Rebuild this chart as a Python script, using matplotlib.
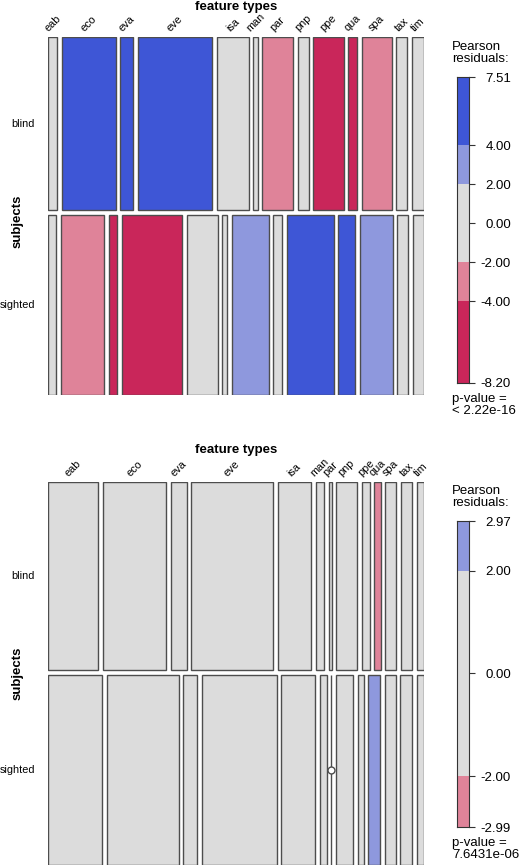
import matplotlib
matplotlib.use("Agg")
import matplotlib.pyplot as plt
from matplotlib.patches import Rectangle
import matplotlib.transforms as mtransforms

plt.rcParams['font.family'] = ['Liberation Sans', 'DejaVu Sans']

# ---------------- data ----------------
features = ["eab", "eco", "eva", "eve", "isa", "man", "par", "pnp", "ppe", "qua", "spa", "tax", "tim"]
subjects = ["blind", "sighted"]

# panel 1 (top): observed counts per subject x feature type
p1_blind = [26, 157, 38, 215, 93, 12, 90, 32, 87, 26, 87, 32, 35]
p1_sighted = [24, 132, 24, 183, 93, 15, 111, 27, 141, 51, 99, 33, 33]
# panel 1 Pearson residuals
p1_res_blind = [0.6, 4.3, 4.6, 7.51, 0.4, -0.5, -3.1, 0.9, -5.6, -4.4, -2.6, 0.2, 0.9]
p1_res_sighted = [-0.6, -3.9, -4.5, -8.20, -0.4, 0.5, 3.0, -0.9, 5.4, 4.3, 2.5, -0.2, -0.9]
p1_pvalue = "< 2.22e-16"

# panel 2 (bottom)
p2_blind = [148, 189, 47, 242, 100, 24, 9, 62, 24, 18, 32, 35, 21]
p2_sighted = [162, 216, 42, 225, 102, 21, 0, 51, 18, 36, 33, 36, 21]
p2_res_blind = [-0.3, -0.6, 0.4, 0.8, 0.0, 0.3, 1.7, 0.6, 0.7, -2.99, 0.0, -0.1, 0.0]
p2_res_sighted = [0.3, 0.6, -0.4, -0.8, 0.0, -0.3, -1.7, -0.6, -0.7, 2.97, 0.0, 0.1, 0.0]
p2_pvalue = "7.6431e-06"

# shading bins
breaks = [-4.0, -2.0, 2.0, 4.0]
bin_colors = ["#c9265a", "#df8399", "#dcdcdc", "#8e98dd", "#3e56d6"]
edge_col = "#4d4d4d"

W, H = 520, 868
fig = plt.figure(figsize=(W / 100, H / 100), dpi=100)


def frac_rect(l, t, r, b):
    return [l / W, 1 - b / H, (r - l) / W, (b - t) / H]


def color_for(v):
    idx = sum(v > b for b in breaks)
    return bin_colors[idx]


LBL = 7.85
VAR = 9.5
LEG = 9.5


def mosaic(rect, rows, resids, gap_px=4.6, vgap_px=5.0):
    ax = fig.add_axes(frac_rect(*rect))
    ax.set_xlim(0, 1)
    ax.set_ylim(1, 0)
    ax.axis("off")
    wpx = rect[2] - rect[0]
    hpx = rect[3] - rect[1]
    gx = gap_px / wpx
    gy = vgap_px / hpx
    ncols = len(rows[0])
    nrows = len(rows)
    tots = [sum(r) for r in rows]
    grand = sum(tots)
    avail_h = 1 - gy * (nrows - 1)
    y = 0.0
    first_centers = []
    row_centers = []
    for i, row in enumerate(rows):
        h = avail_h * tots[i] / grand
        avail_w = 1 - gx * (ncols - 1)
        x = 0.0
        for j, c in enumerate(row):
            w = avail_w * c / tots[i]
            if c == 0:
                ax.plot([x, x], [y, y + h], color=edge_col, lw=1.0, solid_capstyle="butt")
                ax.plot([x], [y + h / 2], marker="o", ms=5, mfc="white", mec=edge_col, mew=1.0)
            else:
                ax.add_patch(Rectangle((x, y), w, h, facecolor=color_for(resids[i][j]),
                                       edgecolor=edge_col, lw=1.0))
            if i == 0:
                first_centers.append(x + w / 2)
            x += w + gx
        row_centers.append(y + h / 2)
        y += h + gy
    # column labels
    off = mtransforms.offset_copy(ax.transData, fig=fig, x=0, y=3.5, units="dots")
    for xc, name in zip(first_centers, features):
        ax.text(xc, 0, name, rotation=45, ha="center", va="bottom", fontsize=LBL,
                transform=off, clip_on=False)
    # row labels
    offl = mtransforms.offset_copy(ax.transData, fig=fig, x=-13, y=0, units="dots")
    for yc, name in zip(row_centers, subjects):
        ax.text(0, yc, name, ha="right", va="center", fontsize=LBL, transform=offl, clip_on=False)
    return ax


def legend(rect, res_all, pvalue, title_top):
    lo = min(res_all)
    hi = max(res_all)
    ax = fig.add_axes(frac_rect(*rect))
    ax.set_xlim(0, 1)
    ax.set_ylim(lo, hi)
    edges = [lo] + [b for b in breaks if lo < b < hi] + [hi]
    for a, b in zip(edges[:-1], edges[1:]):
        ax.add_patch(Rectangle((0, a), 1, b - a, facecolor=color_for((a + b) / 2), edgecolor="none"))
    for s in ax.spines.values():
        s.set_color("#333333")
        s.set_linewidth(0.8)
    ticks = sorted(set([lo, hi, 0.0] + [b for b in breaks if lo < b < hi]))
    ax.set_xticks([])
    ax.yaxis.tick_right()
    ax.set_yticks(ticks)
    ax.set_yticklabels(["%.2f" % t for t in ticks])
    ax.tick_params(axis="y", length=4.5, width=0.8, color="#333333", pad=25.8, labelsize=LEG)
    for lbl in ax.get_yticklabels():
        lbl.set_ha("right")
    fig.text(452 / W, 1 - title_top / H, "Pearson\nresiduals:", ha="left", va="top",
             fontsize=LEG, linespacing=1.05)
    fig.text(452 / W, 1 - (rect[3] + 10) / H, "p-value =\n" + pvalue, ha="left", va="top",
             fontsize=LEG, linespacing=0.95)
    return ax


def var_names(rect, title_y, subj_y):
    cx = (rect[0] + rect[2]) / 2
    fig.text(cx / W, 1 - title_y / H, "feature types", ha="center", va="center",
             fontsize=VAR, fontweight="bold")
    fig.text(18 / W, 1 - subj_y / H, "subjects", ha="center", va="center", rotation=90,
             fontsize=VAR, fontweight="bold")


r1 = (48, 37, 424, 395)
mosaic(r1, [p1_blind, p1_sighted], [p1_res_blind, p1_res_sighted])
legend((457, 77, 469, 383), p1_res_blind + p1_res_sighted, p1_pvalue, 41)
var_names(r1, 7, 221)

r2 = (48, 482, 424, 865)
mosaic(r2, [p2_blind, p2_sighted], [p2_res_blind, p2_res_sighted])
legend((457, 521, 469, 827), p2_res_blind + p2_res_sighted, p2_pvalue, 485)
var_names(r2, 450, 673)

fig.savefig("out.png", dpi=100, facecolor="white")
